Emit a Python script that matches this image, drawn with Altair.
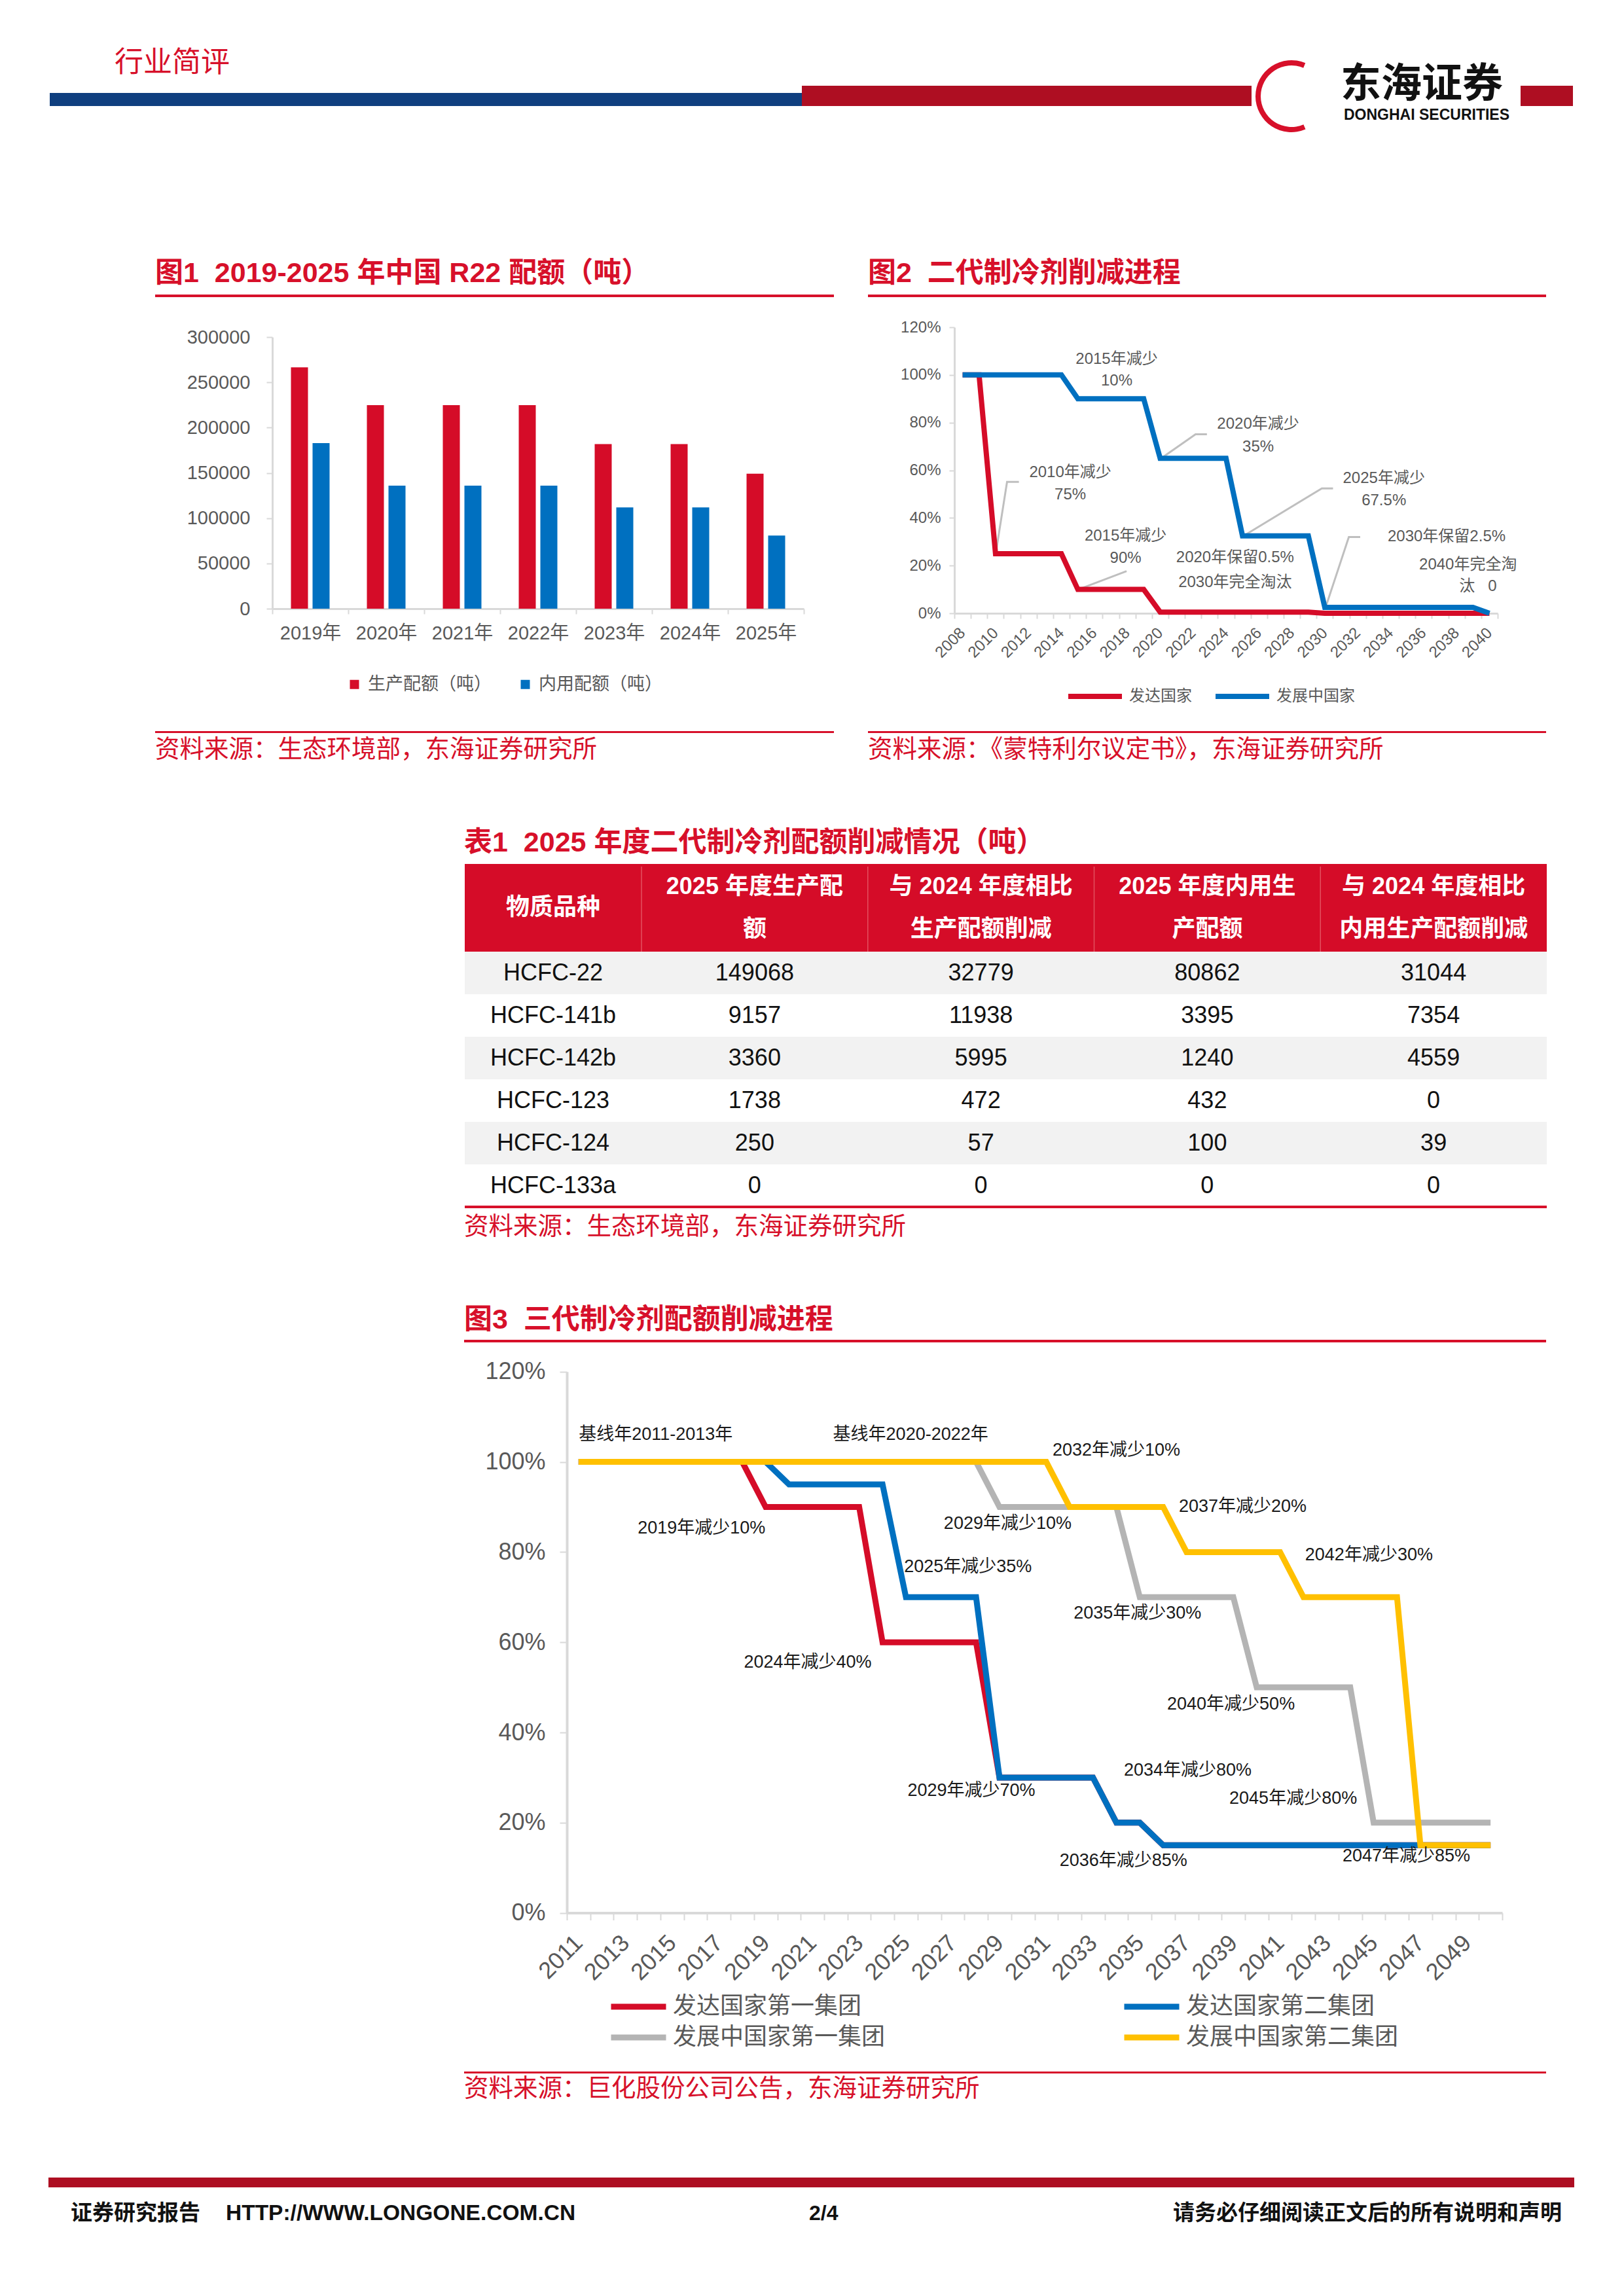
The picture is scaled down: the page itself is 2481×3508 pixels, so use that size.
import altair as alt
import pandas as pd

W, H = 2465, 3485
OX, OY = 8, 8


def P(x):
    return x - OX


def Q(y):
    return y - OY


FONT = "'Liberation Sans', 'Noto Sans CJK SC', sans-serif"
CJK = "'Noto Sans CJK SC', sans-serif"
NB = '\u00a0'

TITLE_RED = '#D7102A'
BAR_RED = '#D50C28'
BLUE = '#0070C0'
GRAY3 = '#B4B4B4'
YELLOW = '#FFC000'
AXIS_GRAY = '#D9D9D9'
LABEL_GRAY = '#595959'
NAVY = '#0F3F7F'
DARK_RED = '#AE0E22'
LEAD_GRAY = '#BFBFBF'

# ---------------- data: figure 1 ----------------
f1_years = ['2019年', '2020年', '2021年', '2022年', '2023年', '2024年', '2025年']
f1_series = ['生产配额（吨）', '内用配额（吨）']
f1_prod = [266500, 224807, 224807, 224807, 181847, 181847, 149068]
f1_dom = [182900, 135927, 135927, 135927, 111906, 111906, 80862]

# ---------------- data: figure 2 ----------------
f2_years = list(range(2008, 2041))
f2_series = ['发达国家', '发展中国家']
f2_dev = [100, 100, 25, 25, 25, 25, 25, 10, 10, 10, 10, 10,
          0.5, 0.5, 0.5, 0.5, 0.5, 0.5, 0.5, 0.5, 0.5, 0.5,
          0, 0, 0, 0, 0, 0, 0, 0, 0, 0, 0]
f2_dvg = [100, 100, 100, 100, 100, 100, 100, 90, 90, 90, 90, 90,
          65, 65, 65, 65, 65, 32.5, 32.5, 32.5, 32.5, 32.5,
          2.5, 2.5, 2.5, 2.5, 2.5, 2.5, 2.5, 2.5, 2.5, 2.5, 0]
f2_ann_text = ['2015年减少', '10%', '2020年减少', '35%', '2010年减少', '75%',
               '2025年减少', '67.5%', '2015年减少', '90%', '2030年保留2.5%',
               '2020年保留0.5%', '2030年完全淘汰', '2040年完全淘', '汰' + NB + NB + NB + '0']
f2_ann_year = [2017.36, 2017.36, 2025.95, 2025.95, 2014.54, 2014.54,
               2033.59, 2033.59, 2017.9, 2017.9, 2037.4,
               2024.55, 2024.55, 2038.7, 2039.3]
f2_ann_pct = [106.5, 97.5, 79.4, 69.7, 59.0, 49.7,
              56.6, 47.2, 32.4, 23.1, 32.1,
              23.3, 12.9, 20.3, 11.3]
f2_lead_id = [0, 0, 0, 1, 1, 2, 2, 2, 3, 3, 3, 4, 4, 4]
f2_lead_year = [2010.02, 2010.7, 2011.42, 2015.03, 2017.96, 2020.04, 2022.15, 2022.84,
                2025.05, 2029.82, 2030.5, 2030.04, 2031.46, 2032.15]
f2_lead_pct = [25.4, 55.1, 55.1, 10.0, 17.7, 64.9, 75.1, 75.1,
               32.4, 52.4, 52.4, 2.3, 32.0, 32.0]

# ---------------- data: table 1 ----------------
t_cols = ['c0', 'c1', 'c2', 'c3', 'c4']
t_heads = ['物质品种', '2025 年度生产配\n额', '与 2024 年度相比\n生产配额削减',
           '2025 年度内用生\n产配额', '与 2024 年度相比\n内用生产配额削减']
t_products = ['HCFC-22', 'HCFC-141b', 'HCFC-142b', 'HCFC-123', 'HCFC-124', 'HCFC-133a']
t_prod_2025 = [149068, 9157, 3360, 1738, 250, 0]
t_prod_cut = [32779, 11938, 5995, 472, 57, 0]
t_dom_2025 = [80862, 3395, 1240, 432, 100, 0]
t_dom_cut = [31044, 7354, 4559, 0, 39, 0]

# ---------------- data: figure 3 ----------------
f3_years = list(range(2011, 2051))
f3_series = ['发达国家第一集团', '发达国家第二集团', '发展中国家第一集团', '发展中国家第二集团']
f3_dev1 = [100, 100, 100, 100, 100, 100, 100, 100, 90, 90, 90, 90, 90,
           60, 60, 60, 60, 60, 30, 30, 30, 30, 30, 20, 20,
           15, 15, 15, 15, 15, 15, 15, 15, 15, 15, 15, 15, 15, 15, 15]
f3_dev2 = [100, 100, 100, 100, 100, 100, 100, 100, 100, 95, 95, 95, 95, 95,
           70, 70, 70, 70, 30, 30, 30, 30, 30, 20, 20,
           15, 15, 15, 15, 15, 15, 15, 15, 15, 15, 15, 15, 15, 15, 15]
f3_dvg1 = [100, 100, 100, 100, 100, 100, 100, 100, 100, 100, 100, 100, 100, 100,
           100, 100, 100, 100, 90, 90, 90, 90, 90, 90, 70, 70, 70, 70, 70,
           50, 50, 50, 50, 50, 20, 20, 20, 20, 20, 20]
f3_dvg2 = [100, 100, 100, 100, 100, 100, 100, 100, 100, 100, 100, 100, 100, 100,
           100, 100, 100, 100, 100, 100, 100, 90, 90, 90, 90, 90, 80, 80, 80, 80, 80,
           70, 70, 70, 70, 70, 15, 15, 15, 15]
f3_ann_text = ['基线年2011-2013年', '基线年2020-2022年', '2032年减少10%', '2019年减少10%',
               '2029年减少10%', '2037年减少20%', '2025年减少35%', '2042年减少30%',
               '2035年减少30%', '2024年减少40%', '2040年减少50%', '2034年减少80%',
               '2029年减少70%', '2045年减少80%', '2036年减少85%', '2047年减少85%']
f3_ann_year = [2014.3, 2025.2, 2034.0, 2016.26, 2029.35, 2039.4, 2027.65, 2044.8,
               2034.9, 2020.8, 2038.9, 2037.05, 2027.8, 2041.56, 2034.3, 2046.4]
f3_ann_pct = [106.1, 106.1, 102.6, 85.3, 86.3, 90.1, 76.7, 79.4,
              66.4, 55.6, 46.2, 31.6, 27.1, 25.3, 11.6, 12.6]

# ---------------- tables for altair ----------------
df1 = pd.DataFrame({'year': f1_years * 2,
                    'series': [f1_series[0]] * len(f1_years) + [f1_series[1]] * len(f1_years),
                    'value': f1_prod + f1_dom})
df2 = pd.DataFrame({'year': f2_years * 2,
                    'series': [f2_series[0]] * len(f2_years) + [f2_series[1]] * len(f2_years),
                    'value': f2_dev + f2_dvg})
df2_ann = pd.DataFrame({'year': f2_ann_year, 'pct': f2_ann_pct, 'label': f2_ann_text})
df2_lead = pd.DataFrame({'id': f2_lead_id, 'year': f2_lead_year, 'pct': f2_lead_pct})
rows3 = []
for name, vals in zip(f3_series, [f3_dev1, f3_dev2, f3_dvg1, f3_dvg2]):
    for yr, v in zip(f3_years, vals):
        rows3.append({'year': yr, 'series': name, 'value': v})
df3 = pd.DataFrame(rows3)
df3_ann = pd.DataFrame({'year': f3_ann_year, 'pct': f3_ann_pct, 'label': f3_ann_text})

cells = []
for i, p in enumerate(t_products):
    vals = [p, t_prod_2025[i], t_prod_cut[i], t_dom_2025[i], t_dom_cut[i]]
    for c, v in zip(t_cols, vals):
        cells.append({'row': p, 'col': c, 'text': str(v)})
df_cells = pd.DataFrame(cells)
df_rows = pd.DataFrame({'row': t_products,
                        'shade': ['g' if i % 2 == 0 else 'w' for i in range(len(t_products))]})
df_heads = pd.DataFrame({'col': t_cols, 'text': t_heads})

one = pd.DataFrame({'k': [0]})


def txt(s, x, y, size, color, weight='normal', align='left', font=FONT):
    return alt.Chart(one).mark_text(text=s, fontSize=size, color=color, fontWeight=weight,
                                    align=align, baseline='middle', font=font).encode(
        x=alt.value(P(x)), y=alt.value(Q(y)))


def box(x1, x2, y1, y2, color):
    return alt.Chart(one).mark_rect(color=color).encode(
        x=alt.value(P(x1)), x2=alt.value(P(x2)), y=alt.value(Q(y1)), y2=alt.value(Q(y2)))


def ax(**kw):
    base = dict(title=None, grid=False, domainColor=AXIS_GRAY, tickColor=AXIS_GRAY,
                labelColor=LABEL_GRAY, labelFont=FONT, labelFlush=False, labelOverlap=False)
    base.update(kw)
    return alt.Axis(**base)


layers = []

# ---------------- page header ----------------
layers += [
    txt('行业简评', 175, 97, 44, TITLE_RED, font=CJK),
    box(76, 1232, 142, 162, NAVY),
    box(1225, 1912, 131, 162, DARK_RED),
    box(2323, 2403, 131, 162, DARK_RED),
    alt.Chart(one).mark_arc(color=TITLE_RED, radius=55, radius2=47, theta=2.74, theta2=6.68).encode(
        x=alt.value(P(1973)), y=alt.value(Q(147))),
    txt('东海证券', 2048, 130, 62, '#111111', weight='bold', font=CJK),
    txt('DONGHAI SECURITIES', 2053, 176, 23, '#111111', weight='bold'),
]

# ---------------- figure titles / rules / sources ----------------
SP = NB + NB
layers += [
    txt('图1' + SP + '2019-2025 年中国 R22 配额（吨）', 237, 418, 43, TITLE_RED, weight='bold'),
    box(237, 1274, 450, 454, TITLE_RED),
    box(237, 1274, 1117, 1120, TITLE_RED),
    txt('资料来源：生态环境部，东海证券研究所', 237, 1146, 37.5, TITLE_RED),
    txt('图2' + SP + '二代制冷剂削减进程', 1326, 418, 43, TITLE_RED, weight='bold'),
    box(1326, 2362, 450, 454, TITLE_RED),
    box(1326, 2362, 1117, 1120, TITLE_RED),
    txt('资料来源：《蒙特利尔议定书》，东海证券研究所', 1326, 1146, 37.5, TITLE_RED),
    txt('表1' + SP + '2025 年度二代制冷剂配额削减情况（吨）', 709, 1288, 43, TITLE_RED, weight='bold'),
    txt('资料来源：生态环境部，东海证券研究所', 709, 1875, 37.5, TITLE_RED),
    txt('图3' + SP + '三代制冷剂配额削减进程', 709, 2017, 43, TITLE_RED, weight='bold'),
    box(709, 2362, 2047, 2051, TITLE_RED),
    box(709, 2362, 3165, 3168, TITLE_RED),
    txt('资料来源：巨化股份公司公告，东海证券研究所', 709, 3192, 37.5, TITLE_RED),
]

# ---------------- footer ----------------
layers += [
    box(74, 2405, 3327, 3342, DARK_RED),
    txt('证券研究报告', 108, 3382, 33, '#111111', weight='bold', font=CJK),
    txt('HTTP://WWW.LONGONE.COM.CN', 345, 3382, 33.5, '#111111', weight='bold'),
    txt('2/4', 1236, 3382, 32, '#111111', weight='bold'),
    txt('请务必仔细阅读正文后的所有说明和声明', 2386, 3382, 33, '#111111', weight='bold', align='right', font=CJK),
]

# ---------------- figure 1: bars ----------------
bars1 = alt.Chart(df1).mark_bar().encode(
    x=alt.X('year:N', sort=f1_years,
            scale=alt.Scale(domain=f1_years, range=[P(416), P(1228)], paddingInner=0, paddingOuter=0),
            axis=ax(orient='bottom', offset=Q(930) - H, tickBand='extent', labelAngle=0, tickSize=8,
                    tickWidth=2, domainWidth=3, labelFontSize=29, labelPadding=15)),
    xOffset=alt.XOffset('series:N', sort=f1_series,
                        scale=alt.Scale(domain=f1_series, paddingInner=0.212, paddingOuter=0.864)),
    y=alt.Y('value:Q', scale=alt.Scale(domain=[0, 300000], range=[Q(930), Q(515)], nice=False),
            axis=ax(orient='left', offset=-P(416), values=list(range(0, 300001, 50000)), format='d',
                    tickSize=9, tickWidth=2, domainWidth=3, labelFontSize=29, labelPadding=25)),
    color=alt.Color('series:N', sort=f1_series,
                    scale=alt.Scale(domain=f1_series, range=[BAR_RED, BLUE]),
                    legend=alt.Legend(orient='none', legendX=P(528), legendY=Q(1032), direction='horizontal',
                                      title=None, symbolType='square', symbolSize=196, labelFontSize=27,
                                      labelColor=LABEL_GRAY, labelFont=FONT, columnPadding=38, labelOffset=7,
                                      labelLimit=600, padding=0)),
)
layers.append(bars1)

# ---------------- figure 2: lines ----------------
x2s = alt.Scale(domain=[2007.5, 2040.5], range=[P(1458), P(2288)], nice=False, zero=False)
y2s = alt.Scale(domain=[0, 120], range=[Q(937), Q(500)], nice=False, zero=False)

lead2 = alt.Chart(df2_lead).mark_line(color=LEAD_GRAY, strokeWidth=3).encode(
    x=alt.X('year:Q', scale=x2s, axis=None),
    y=alt.Y('pct:Q', scale=y2s, axis=None),
    detail='id:N',
)
lines2 = alt.Chart(df2).mark_line(strokeWidth=8).encode(
    x=alt.X('year:Q', scale=x2s,
            axis=ax(orient='bottom', offset=Q(937) - H, values=[2007.5 + i for i in range(34)], labels=False,
                    tickSize=8, tickWidth=2, domainWidth=3)),
    y=alt.Y('value:Q', scale=y2s,
            axis=ax(orient='left', offset=-P(1458), values=list(range(0, 121, 20)),
                    labelExpr="datum.value + '%'", tickSize=8, tickWidth=2, domainWidth=3,
                    labelFontSize=24, labelPadding=13)),
    color=alt.Color('series:N', sort=f2_series,
                    scale=alt.Scale(domain=f2_series, range=[BAR_RED, BLUE]),
                    legend=alt.Legend(orient='none', legendX=P(1628), legendY=Q(1049), direction='horizontal',
                                      title=None, symbolType='stroke', symbolSize=82 * 82, symbolStrokeWidth=8,
                                      clipHeight=30, labelFontSize=24, labelColor=LABEL_GRAY, labelFont=FONT,
                                      columnPadding=32, labelOffset=7, labelLimit=600, padding=0)),
)
ann2 = alt.Chart(df2_ann).mark_text(fontSize=24, color=LABEL_GRAY, font=FONT, align='center',
                                    baseline='middle').encode(
    x=alt.X('year:Q', scale=x2s,
            axis=ax(orient='bottom', offset=Q(937) - H, values=list(range(2008, 2041, 2)), format='d',
                    ticks=False, tickSize=0, domain=False, labelAngle=-45, labelAlign='right',
                    labelBaseline='middle', labelFontSize=24, labelPadding=26)),
    y=alt.Y('pct:Q', scale=y2s, axis=None),
    text='label:N',
)
layers += [lead2, lines2, ann2]

# ---------------- table 1 ----------------
tx0 = alt.Scale(domain=t_cols[:1], range=[P(710), P(980)], paddingInner=0, paddingOuter=0)
tx = alt.Scale(domain=t_cols[1:], range=[P(980), P(2363)], paddingInner=0, paddingOuter=0)
ty = alt.Scale(domain=t_products, range=[Q(1454), Q(1844)], paddingInner=0, paddingOuter=0)
first_col = alt.FieldOneOfPredicate(field='col', oneOf=t_cols[:1])
other_cols = alt.FieldOneOfPredicate(field='col', oneOf=t_cols[1:])

layers += [
    box(710, 2363, 1320, 1454, BAR_RED),
    alt.Chart(pd.DataFrame({'col': t_cols[1:]})).mark_rule(color='#E3505F', strokeWidth=1.5).encode(
        x=alt.X('col:N', scale=alt.Scale(domain=t_cols[1:], range=[P(980), P(2363)], paddingInner=0,
                                         paddingOuter=0, align=0), bandPosition=0, axis=None),
        y=alt.value(Q(1324)), y2=alt.value(Q(1454)),
    ),
    alt.Chart(df_rows).mark_rect().encode(
        x=alt.value(P(710)), x2=alt.value(P(2363)),
        y=alt.Y('row:N', scale=ty, axis=None),
        color=alt.Color('shade:N', scale=alt.Scale(domain=['g', 'w'], range=['#F2F2F2', '#FFFFFF']),
                        legend=None),
    ),
    box(710, 2363, 1842, 1846, TITLE_RED),
    alt.Chart(df_heads).transform_filter(first_col).mark_text(
        fontSize=36, color='white', fontWeight='bold', font=FONT, align='center', baseline='middle').encode(
        x=alt.X('col:N', scale=tx0, axis=None),
        y=alt.value(Q(1387)),
        text='text:N',
    ),
    alt.Chart(df_heads).transform_filter(other_cols).mark_text(
        fontSize=36, color='white', fontWeight='bold', font=FONT, align='center', baseline='middle',
        lineBreak='\n', lineHeight=65).encode(
        x=alt.X('col:N', scale=tx, axis=None),
        y=alt.value(Q(1355)),
        text='text:N',
    ),
    alt.Chart(df_cells).transform_filter(first_col).mark_text(
        fontSize=36, color='#111111', font=FONT, align='center', baseline='middle').encode(
        x=alt.X('col:N', scale=tx0, axis=None),
        y=alt.Y('row:N', scale=ty, axis=None),
        text='text:N',
    ),
    alt.Chart(df_cells).transform_filter(other_cols).mark_text(
        fontSize=36, color='#111111', font=FONT, align='center', baseline='middle').encode(
        x=alt.X('col:N', scale=tx, axis=None),
        y=alt.Y('row:N', scale=ty, axis=None),
        text='text:N',
    ),
]

# ---------------- figure 3 ----------------
x3s = alt.Scale(domain=[2010.5, 2050.5], range=[P(866), P(2295)], nice=False, zero=False)
y3s = alt.Scale(domain=[0, 120], range=[Q(2922.6), Q(2095.8)], nice=False, zero=False)

lines3 = alt.Chart(df3).mark_line(strokeWidth=9).encode(
    x=alt.X('year:Q', scale=x3s,
            axis=ax(orient='bottom', offset=Q(2922.6) - H, values=[2010.5 + i for i in range(41)], labels=False,
                    tickSize=11, tickWidth=2, domainWidth=4)),
    y=alt.Y('value:Q', scale=y3s,
            axis=ax(orient='left', offset=-P(866), values=list(range(0, 121, 20)),
                    labelExpr="datum.value + '%'", tickSize=11, tickWidth=2, domainWidth=4,
                    labelFontSize=36, labelPadding=22)),
    color=alt.Color('series:N', sort=f3_series,
                    scale=alt.Scale(domain=f3_series, range=[BAR_RED, BLUE, GRAY3, YELLOW]),
                    legend=alt.Legend(orient='none', legendX=P(929), legendY=Q(3046), direction='horizontal',
                                      columns=2, title=None, symbolType='stroke', symbolSize=84 * 84,
                                      symbolStrokeWidth=9, clipHeight=40, rowPadding=7, columnPadding=360,
                                      labelFontSize=36, labelColor=LABEL_GRAY, labelFont=FONT, labelOffset=6,
                                      labelLimit=800, padding=0)),
)
ann3 = alt.Chart(df3_ann).mark_text(fontSize=27, color='#1A1A1A', font=FONT, align='center',
                                    baseline='middle').encode(
    x=alt.X('year:Q', scale=x3s,
            axis=ax(orient='bottom', offset=Q(2922.6) - H, values=list(range(2011, 2050, 2)), format='d',
                    ticks=False, tickSize=0, domain=False, labelAngle=-45, labelAlign='right',
                    labelBaseline='middle', labelFontSize=36, labelPadding=40)),
    y=alt.Y('pct:Q', scale=y3s, axis=None),
    text='label:N',
)
layers += [lines3, ann3]

chart = alt.layer(*layers).resolve_scale(
    x='independent', y='independent', color='independent'
).resolve_axis(
    x='independent', y='independent'
).resolve_legend(
    color='independent'
).properties(
    width=W, height=H, padding=0, background='white',
    autosize=alt.AutoSizeParams(type='none'),
).configure_view(strokeWidth=0)

chart.save('out.html', embed_options={'renderer': 'svg', 'actions': False})
